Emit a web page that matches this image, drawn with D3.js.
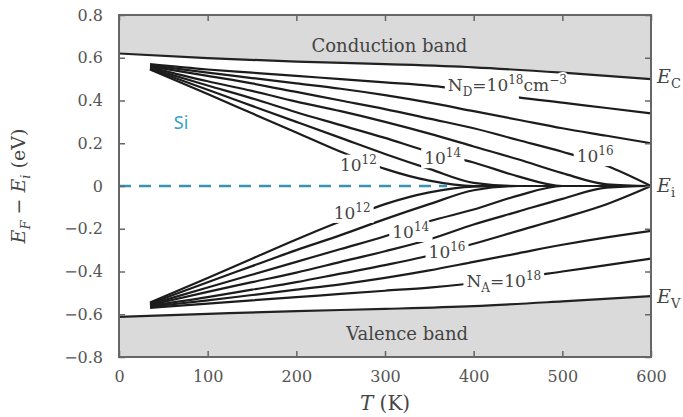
<!DOCTYPE html>
<html>
<head>
<meta charset="utf-8">
<script src="https://cdn.jsdelivr.net/npm/d3@7"></script>
<style>
  body { margin: 0; background: #fff; }
  svg { display: block; font-family: "DejaVu Serif", serif; }
</style>
</head>
<body>
<svg></svg>
<script>
const width = 683, height = 417;

// temperature grid (K) shared by all curves
const temps = [35, 100, 150, 200, 250, 300, 350, 400, 450, 500, 550, 600];

// E_F - E_i (eV), n-type, N_D = 1e12 ... 1e18
const nd12 = [0.545, 0.43, 0.34, 0.25, 0.16, 0.08, 0.025, 0.0, 0, 0, 0, 0];
const nd13 = [0.547, 0.45, 0.375, 0.30, 0.225, 0.15, 0.08, 0.015, 0, 0, 0, 0];
const nd14 = [0.55, 0.47, 0.41, 0.345, 0.285, 0.225, 0.16, 0.11, 0.045, 0, 0, 0];
const nd15 = [0.555, 0.49, 0.445, 0.395, 0.35, 0.30, 0.245, 0.185, 0.125, 0.06, 0.008, 0];
const nd16 = [0.56, 0.515, 0.48, 0.44, 0.40, 0.36, 0.315, 0.27, 0.215, 0.16, 0.095, 0];
const nd17 = [0.565, 0.53, 0.505, 0.48, 0.455, 0.425, 0.39, 0.35, 0.31, 0.27, 0.235, 0.20];
const nd18 = [0.57, 0.545, 0.53, 0.515, 0.50, 0.485, 0.47, 0.445, 0.415, 0.39, 0.365, 0.34];

// p-type, N_A = 1e12 ... 1e18
const na12 = [-0.545, -0.43, -0.34, -0.25, -0.165, -0.085, -0.03, -0.003, 0, 0, 0, 0];
const na13 = [-0.55, -0.45, -0.375, -0.30, -0.23, -0.155, -0.085, -0.02, 0, 0, 0, 0];
const na14 = [-0.553, -0.475, -0.415, -0.355, -0.295, -0.235, -0.165, -0.11, -0.045, 0, 0, 0];
const na15 = [-0.557, -0.495, -0.45, -0.405, -0.355, -0.305, -0.25, -0.18, -0.12, -0.06, -0.008, 0];
const na16 = [-0.56, -0.52, -0.485, -0.45, -0.41, -0.37, -0.325, -0.27, -0.21, -0.15, -0.085, 0];
const na17 = [-0.565, -0.535, -0.51, -0.485, -0.46, -0.43, -0.395, -0.355, -0.315, -0.275, -0.24, -0.21];
const na18 = [-0.57, -0.55, -0.535, -0.52, -0.505, -0.49, -0.475, -0.455, -0.43, -0.40, -0.37, -0.34];

// band edges
const bandT = [0, 100, 200, 300, 400, 500, 600];
const ecVals = [0.62, 0.598, 0.582, 0.57, 0.555, 0.53, 0.50];
const evVals = [-0.612, -0.598, -0.585, -0.575, -0.562, -0.54, -0.515];

// intrinsic level dashed segment
const eiT = [0, 370];
const eiVals = [0, 0];

const xTicks = [0, 100, 200, 300, 400, 500, 600];
const yTicks = [-0.8, -0.6, -0.4, -0.2, 0, 0.2, 0.4, 0.6, 0.8];

// curve labels (centre in data units); mask = how many chars cut the line
const curveLabels = [
  {t: 270, e: 0.10, pre: "", sub: "", base: "10", exp: "12", tail: ""},
  {t: 365, e: 0.13, pre: "", sub: "", base: "10", exp: "14", tail: ""},
  {t: 537, e: 0.14, pre: "", sub: "", base: "10", exp: "16", tail: ""},
  {t: 438, e: 0.472, pre: "N", sub: "D", base: "=10", exp: "18", tail: "cm", tailExp: "−3", mask: 6},
  {t: 263, e: -0.126, pre: "", sub: "", base: "10", exp: "12", tail: ""},
  {t: 329, e: -0.215, pre: "", sub: "", base: "10", exp: "14", tail: ""},
  {t: 370, e: -0.309, pre: "", sub: "", base: "10", exp: "16", tail: ""},
  {t: 434, e: -0.444, pre: "N", sub: "A", base: "=10", exp: "18", tail: ""}
];

const svg = d3.select("svg")
    .attr("width", width)
    .attr("height", height)
    .attr("viewBox", [0, 0, width, height]);

const x = d3.scaleLinear().domain([0, 600]).range([119, 651]);
const y = d3.scaleLinear().domain([-0.8, 0.8]).range([357, 15]);

// bands
const ecData = bandT.map((t, i) => [t, ecVals[i]]);
const evData = bandT.map((t, i) => [t, evVals[i]]);

svg.append("path")
    .datum(ecData)
    .attr("fill", "#dadada")
    .attr("d", d3.area().x(d => x(d[0])).y0(y(0.8)).y1(d => y(d[1])));
svg.append("path")
    .datum(evData)
    .attr("fill", "#dadada")
    .attr("d", d3.area().x(d => x(d[0])).y0(y(-0.8)).y1(d => y(d[1])));

const line = d3.line()
    .x(d => x(d[0]))
    .y(d => y(d[1]))
    .curve(d3.curveMonotoneX);

svg.append("g")
    .attr("fill", "none")
    .attr("stroke", "#222")
    .attr("stroke-width", 2.2)
    .selectAll("path")
    .data([ecData, evData])
    .join("path")
    .attr("d", line);

// dashed intrinsic level
svg.append("path")
    .datum(eiT.map((t, i) => [t, eiVals[i]]))
    .attr("fill", "none")
    .attr("stroke", "#3a93b4")
    .attr("stroke-width", 2.4)
    .attr("stroke-dasharray", "12,8")
    .attr("d", line);

// Fermi level curves
const series = [nd12, nd13, nd14, nd15, nd16, nd17, nd18,
                na12, na13, na14, na15, na16, na17, na18];
svg.append("g")
    .attr("fill", "none")
    .attr("stroke", "#1c1c1c")
    .attr("stroke-width", 2.2)
    .selectAll("path")
    .data(series.map(s => temps.map((t, i) => [t, s[i]])))
    .join("path")
    .attr("d", line);

// axes: inward ticks on all four sides
const axisStyle = g => {
  g.select(".domain").remove();
  g.selectAll(".tick line").attr("stroke", "#666").attr("stroke-width", 1.5);
  g.selectAll(".tick text").attr("fill", "#555").attr("font-size", 16)
      .attr("font-family", "DejaVu Serif, serif");
};

svg.append("g")
    .attr("transform", `translate(${x(0)},0)`)
    .call(d3.axisLeft(y).tickValues(yTicks).tickSize(-6).tickPadding(16)
        .tickFormat(d => d === 0 ? "0" : d3.format(".1f")(d)))
    .call(axisStyle);
svg.append("g")
    .attr("transform", `translate(${x(600)},0)`)
    .call(d3.axisRight(y).tickValues(yTicks).tickSize(-6).tickFormat(""))
    .call(axisStyle);
svg.append("g")
    .attr("transform", `translate(0,${y(-0.8)})`)
    .call(d3.axisBottom(x).tickValues(xTicks).tickSize(-6).tickPadding(14))
    .call(axisStyle);
svg.append("g")
    .attr("transform", `translate(0,${y(0.8)})`)
    .call(d3.axisTop(x).tickValues(xTicks).tickSize(-6).tickFormat(""))
    .call(axisStyle);

// frame
svg.append("rect")
    .attr("x", x(0))
    .attr("y", y(0.8))
    .attr("width", x(600) - x(0))
    .attr("height", y(-0.8) - y(0.8))
    .attr("fill", "none")
    .attr("stroke", "#666")
    .attr("stroke-width", 2);

// curve labels; a white box behind each one breaks its line
const labG = svg.append("g")
    .attr("font-size", 17)
    .selectAll("g")
    .data(curveLabels)
    .join("g");

labG.each(function(d) {
  const g = d3.select(this);
  const box = g.append("rect").attr("fill", "#fff");
  const t = g.append("text")
      .attr("x", x(d.t))
      .attr("y", y(d.e) + 6)
      .attr("text-anchor", "middle")
      .attr("fill", "#444")
      .attr("stroke", "#fff")
      .attr("stroke-width", 4)
      .attr("paint-order", "stroke");
  if (d.pre) {
    t.append("tspan").text(d.pre);
    t.append("tspan").attr("dy", 5).attr("font-size", 12).text(d.sub);
    t.append("tspan").attr("dy", -5).text(d.base);
  } else {
    t.append("tspan").text(d.base);
  }
  t.append("tspan").attr("dy", -7).attr("font-size", 12).text(d.exp);
  if (d.tail) {
    t.append("tspan").attr("dy", 7).text(d.tail);
    t.append("tspan").attr("dy", -7).attr("font-size", 12).text(d.tailExp);
  }
  const node = t.node();
  const bb = node.getBBox();
  let right = bb.x + bb.width;
  if (d.mask) {
    const ext = node.getExtentOfChar(d.mask - 1);
    right = ext.x + ext.width;
  }
  box.attr("x", bb.x - 3)
      .attr("y", bb.y + 2)
      .attr("width", right - bb.x + 6)
      .attr("height", bb.height - 2);
});

// band names
svg.append("text")
    .attr("x", x(305))
    .attr("y", y(0.8) + 37)
    .attr("text-anchor", "middle")
    .attr("font-size", 18)
    .attr("fill", "#444")
    .text("Conduction band");
svg.append("text")
    .attr("x", x(325))
    .attr("y", y(-0.8) - 17)
    .attr("text-anchor", "middle")
    .attr("font-size", 18)
    .attr("fill", "#444")
    .text("Valence band");

// Si
svg.append("text")
    .attr("x", x(70))
    .attr("y", y(0.265))
    .attr("text-anchor", "middle")
    .attr("font-family", "Noto Sans, sans-serif")
    .attr("font-size", 18)
    .attr("fill", "#3aa0c6")
    .text("Si");

// right-side level labels
const levels = [{e: 0.51, s: "C"}, {e: 0, s: "i"}, {e: -0.52, s: "V"}];
const lv = svg.append("g")
    .attr("font-size", 19)
    .attr("fill", "#444")
    .selectAll("text")
    .data(levels)
    .join("text")
    .attr("x", x(600) + 6)
    .attr("y", d => y(d.e) + 6);
lv.append("tspan").attr("font-style", "italic").text("E");
lv.append("tspan").attr("dy", 5).attr("font-size", 13).text(d => d.s);

// axis titles
svg.append("text")
    .attr("x", x(300))
    .attr("y", 410)
    .attr("text-anchor", "middle")
    .attr("font-size", 20)
    .attr("fill", "#444")
    .call(t => {
      t.append("tspan").attr("font-style", "italic").text("T");
      t.append("tspan").text(" (K)");
    });

const yl = svg.append("text")
    .attr("transform", `translate(25,${y(0)}) rotate(-90)`)
    .attr("text-anchor", "middle")
    .attr("font-size", 19)
    .attr("fill", "#444");
yl.append("tspan").attr("font-style", "italic").text("E");
yl.append("tspan").attr("dy", 5).attr("font-size", 13).attr("font-style", "italic").text("F");
yl.append("tspan").attr("dy", -5).text(" − ");
yl.append("tspan").attr("font-style", "italic").text("E");
yl.append("tspan").attr("dy", 5).attr("font-size", 13).attr("font-style", "italic").text("i");
yl.append("tspan").attr("dy", -5).text(" (eV)");
</script>
</body>
</html>
